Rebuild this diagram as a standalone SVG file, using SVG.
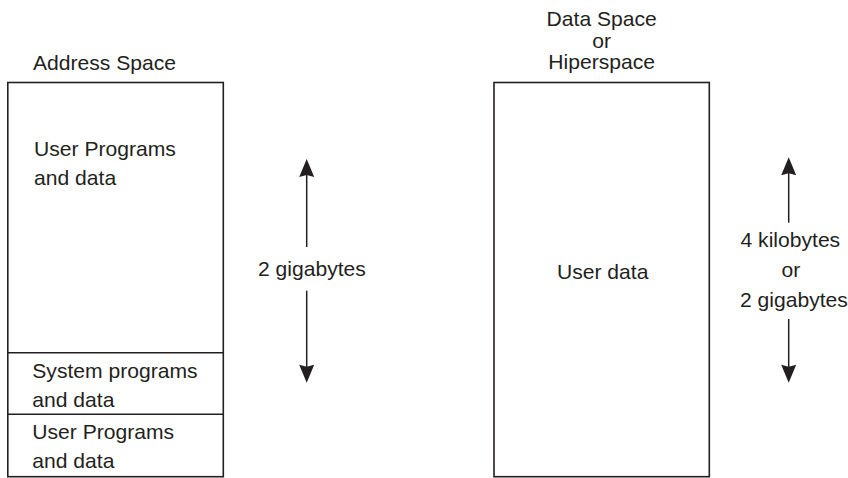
<svg xmlns="http://www.w3.org/2000/svg" width="848" height="478" viewBox="0 0 848 478">
<style>
text{font-family:"Liberation Sans",Arial,sans-serif;font-size:21.1px;fill:#231f20}
.box{fill:none;stroke:#231f20;stroke-width:1.6}
.line{stroke:#231f20;stroke-width:1.6}
.conn{stroke:#231f20;stroke-width:1.5;fill:none}
.head{fill:#231f20}
.mid{text-anchor:middle}
</style>
<rect width="848" height="478" fill="#fff"/>
<g id="address-space">
<text x="33" y="70">Address Space</text>
<rect class="box" x="7.8" y="82.5" width="215.5" height="394.2"/>
<line class="line" x1="7.8" y1="352.7" x2="223.3" y2="352.7"/>
<line class="line" x1="7.8" y1="414.3" x2="223.3" y2="414.3"/>
<text x="34" y="155.7">User Programs</text>
<text x="34" y="185">and data</text>
<text x="32.3" y="377.7">System programs</text>
<text x="32.3" y="407.3">and data</text>
<text x="32.3" y="439">User Programs</text>
<text x="32.3" y="468.3">and data</text>
</g>
<g id="data-space">
<text class="mid" x="601.7" y="26">Data Space</text>
<text class="mid" x="601.7" y="47.7">or</text>
<text class="mid" x="601.7" y="69.3">Hiperspace</text>
<rect class="box" x="494" y="82.5" width="215.3" height="394.2"/>
<text class="mid" x="602.7" y="279">User data</text>
</g>
<g id="size-left">
<text x="258" y="276">2 gigabytes</text>
</g>
<g id="size-right">
<text x="740.5" y="246.7">4 kilobytes</text>
<text class="mid" x="791" y="276.7">or</text>
<text x="740" y="306.7">2 gigabytes</text>
</g>
<g id="connectors">
<line class="conn" x1="306.7" y1="172" x2="306.7" y2="247"/>
<path class="head" d="M306.7 159 L314.2 177 L306.7 175 L299.2 177 Z"/>
<line class="conn" x1="306.7" y1="290.7" x2="306.7" y2="370"/>
<path class="head" d="M306.7 382.7 L314.2 364.7 L306.7 366.7 L299.2 364.7 Z"/>
<line class="conn" x1="788.7" y1="170" x2="788.7" y2="222.7"/>
<path class="head" d="M788.7 157.3 L796.2 175.3 L788.7 173.3 L781.2 175.3 Z"/>
<line class="conn" x1="788.7" y1="319" x2="788.7" y2="370"/>
<path class="head" d="M788.7 382.7 L796.2 364.7 L788.7 366.7 L781.2 364.7 Z"/>
</g>
</svg>
